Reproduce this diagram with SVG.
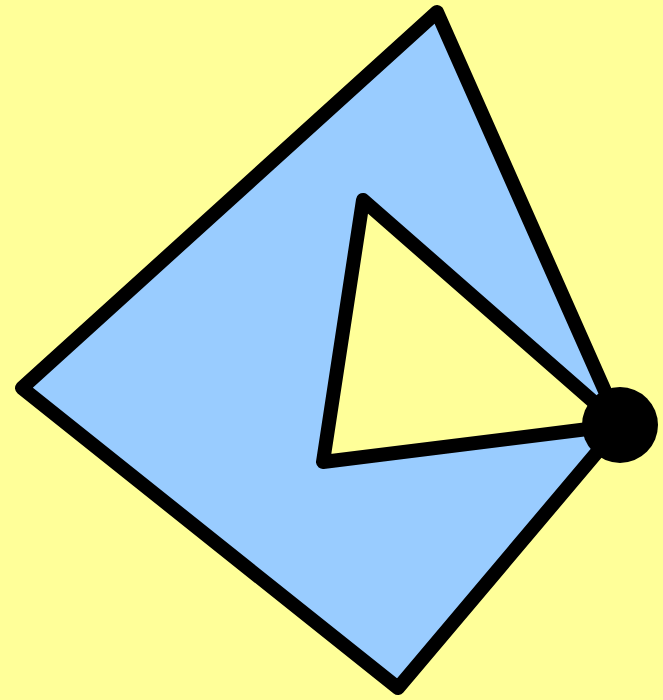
<svg xmlns="http://www.w3.org/2000/svg" width="663" height="700" viewBox="0 0 663 700">
<style>
.s{stroke:#000;stroke-width:14;stroke-linejoin:round;stroke-linecap:round}
</style>
<rect width="663" height="700" fill="#FFFF99"/>
<g id="outer"><polygon class="s" fill="#99CCFF" points="437,12 620,425 398,688 22,388"/></g>
<g id="inner"><polygon class="s" fill="#FFFF99" points="363,200 620,425 323,462"/></g>
<g id="pivot"><circle cx="620" cy="425" r="38" fill="#000"/></g>
</svg>
